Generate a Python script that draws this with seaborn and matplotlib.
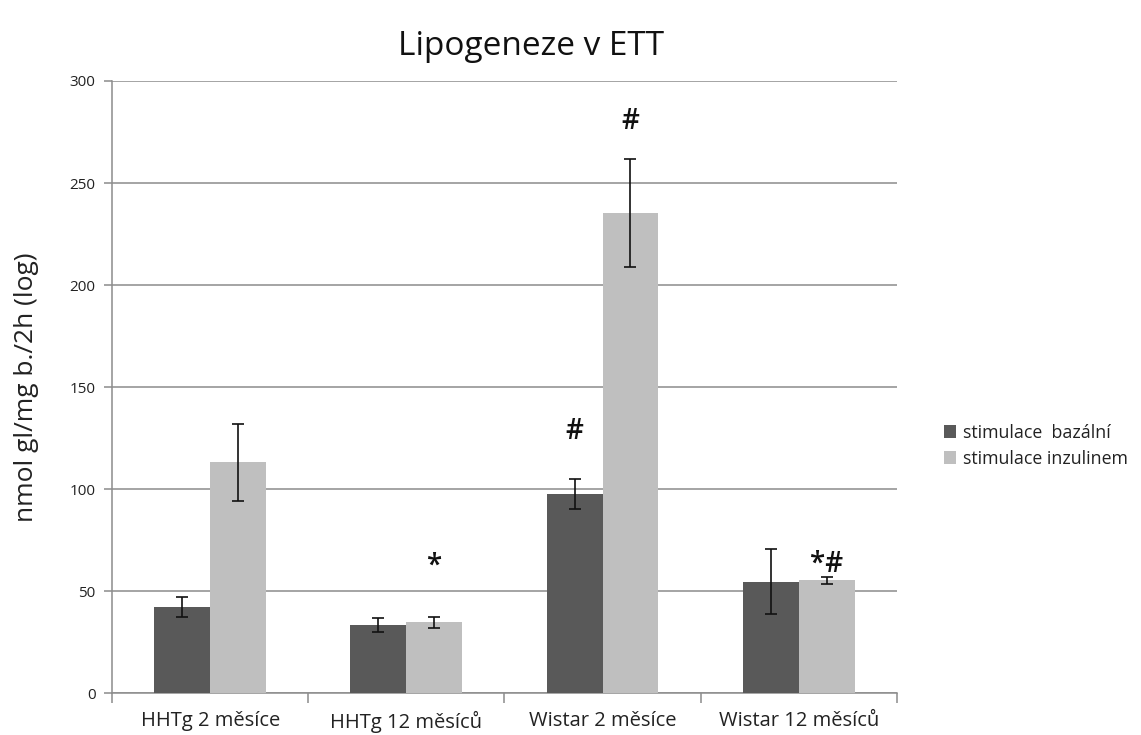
import matplotlib
matplotlib.use("Agg")
import matplotlib.pyplot as plt
import seaborn as sns
import pandas as pd
import numpy as np
from matplotlib.ticker import FixedLocator

categories = ["HHTg 2 měsíce", "HHTg 12 měsíců", "Wistar 2 měsíce", "Wistar 12 měsíců"]
series = ["stimulace  bazální", "stimulace inzulinem"]
basal = [42.2, 33.5, 97.5, 54.5]
basal_err = [5.0, 3.5, 7.5, 16.0]
insulin = [113.0, 34.8, 235.5, 55.2]
insulin_err = [19.0, 2.7, 26.5, 1.8]
# significance marks placed above the insulin / basal bars
marks = [(1, 1, "*"), (2, 0, "#"), (2, 1, "#"), (3, 1, "*#")]
mark_y = [62, 128, 280, 63]

colors = ["#595959", "#bfbfbf"]

df = pd.DataFrame({
    "skupina": categories * 2,
    "stimulace": [series[0]] * 4 + [series[1]] * 4,
    "hodnota": basal + insulin,
})

sns.set_style("white")
plt.rcParams["font.family"] = ["Open Sans", "DejaVu Sans"]

fig = plt.figure(figsize=(11.41, 7.35), dpi=100)
ax = fig.add_axes([0.0982, 0.0571, 0.6878, 0.8327])

sns.barplot(data=df, x="skupina", y="hodnota", hue="stimulace",
            palette=colors, errorbar=None, width=0.57, saturation=1,
            linewidth=0, ax=ax, order=categories, hue_order=series, zorder=3)

bar_containers = list(ax.containers)
bar_x = [[p.get_x() + p.get_width() / 2 for p in cont.patches] for cont in bar_containers]

# error bars centred on the drawn bars
errs = [basal_err, insulin_err]
vals = [basal, insulin]
for s in range(len(bar_containers)):
    ax.errorbar(bar_x[s], vals[s], yerr=errs[s], fmt="none", ecolor="#111111",
                elinewidth=1.2, capsize=4, capthick=1.2, zorder=4)

for (c, s, txt), y in zip(marks, mark_y):
    ax.text(bar_x[s][c], y, txt, ha="center", va="center", fontsize=20,
            fontweight="semibold", color="#111111", zorder=5)

ax.set_ylim(0, 300)
ax.set_xlim(-0.5, 3.5)
ax.set_yticks([0, 50, 100, 150, 200, 250, 300])
ax.yaxis.grid(True, color="#8c8c8c", linewidth=1.1, zorder=0)
ax.set_axisbelow(True)
for side in ["top", "right"]:
    ax.spines[side].set_visible(False)
for side in ["left", "bottom"]:
    ax.spines[side].set_color("#8c8c8c")
    ax.spines[side].set_linewidth(1.1)

ax.tick_params(axis="y", labelsize=11, length=6, color="#8c8c8c",
               width=1.1, labelcolor="#222222", left=True, pad=6)
ax.tick_params(axis="x", which="major", length=0, labelsize=14.5,
               labelcolor="#222222", pad=13)
ax.xaxis.set_minor_locator(FixedLocator([-0.5, 0.5, 1.5, 2.5, 3.5]))
ax.tick_params(axis="x", which="minor", length=7, color="#8c8c8c",
               width=1.1, bottom=True)

ax.set_xlabel("")
ax.set_ylabel("nmol gl/mg b./2h (log)", fontsize=19, color="#222222", labelpad=22)

fig.text(0.465, 0.937, "Lipogeneze v ETT", ha="center", va="center",
         fontsize=24, color="#111111")

leg = ax.legend(loc="center left", bbox_to_anchor=(1.046, 0.404), frameon=False,
                fontsize=12.8, handlelength=0.7, handleheight=0.7,
                handletextpad=0.4, labelspacing=0.45, borderaxespad=0.2)
for t in leg.get_texts():
    t.set_color("#222222")

fig.savefig("out.png", dpi=100)
